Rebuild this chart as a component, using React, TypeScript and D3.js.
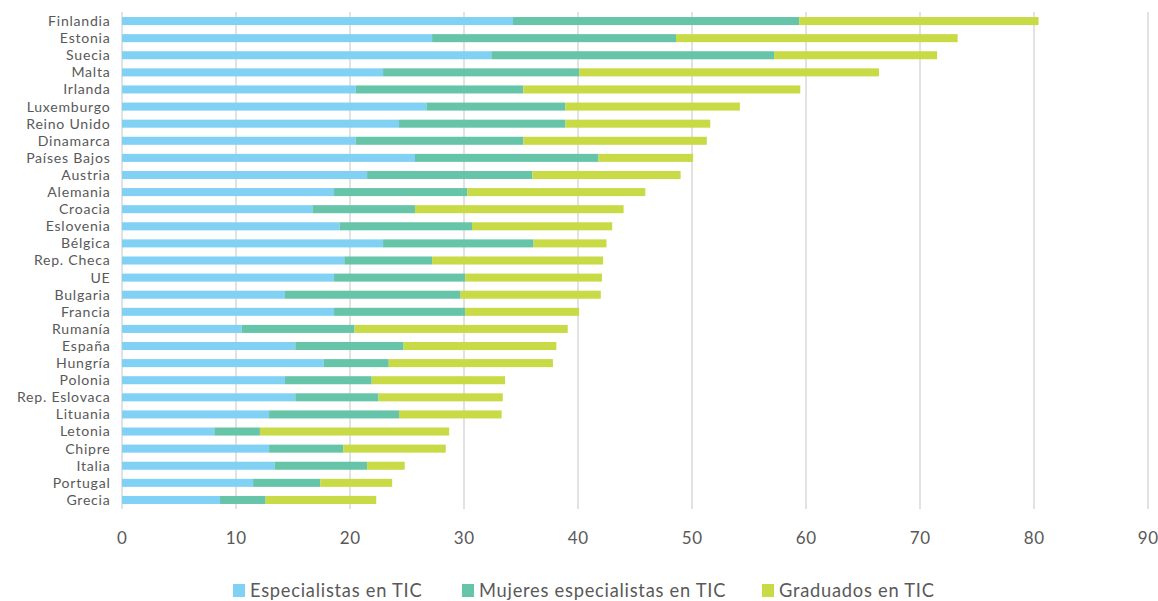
import React from "react";
import * as d3 from "d3";

// Countries, top to bottom
const categories = [
  "Finlandia", "Estonia", "Suecia", "Malta", "Irlanda", "Luxemburgo", "Reino Unido",
  "Dinamarca", "Países Bajos", "Austria", "Alemania", "Croacia", "Eslovenia", "Bélgica",
  "Rep. Checa", "UE", "Bulgaria", "Francia", "Rumanía", "España", "Hungría", "Polonia",
  "Rep. Eslovaca", "Lituania", "Letonia", "Chipre", "Italia", "Portugal", "Grecia",
];

// Segment values of each stacked bar
const especialistas = [
  34.3, 27.2, 32.4, 22.9, 20.5, 26.7, 24.3, 20.5, 25.7, 21.5, 18.6, 16.7, 19.1, 22.9,
  19.5, 18.6, 14.3, 18.6, 10.5, 15.2, 17.7, 14.3, 15.2, 12.9, 8.1, 12.9, 13.4, 11.5, 8.6,
];
const mujeres = [
  25.1, 21.4, 24.8, 17.2, 14.7, 12.2, 14.6, 14.7, 16.1, 14.5, 11.7, 9.0, 11.6, 13.2,
  7.7, 11.5, 15.4, 11.5, 9.9, 9.5, 5.7, 7.6, 7.3, 11.4, 4.0, 6.5, 8.1, 5.9, 4.0,
];
const graduados = [
  21.0, 24.7, 14.3, 26.3, 24.3, 15.3, 12.7, 16.1, 8.3, 13.0, 15.6, 18.3, 12.3, 6.4,
  15.0, 12.0, 12.3, 10.0, 18.7, 13.4, 14.4, 11.7, 10.9, 9.0, 16.6, 9.0, 3.3, 6.3, 9.7,
];

const seriesNames = ["Especialistas en TIC", "Mujeres especialistas en TIC", "Graduados en TIC"];
const seriesColors = ["#81d1f5", "#66c5a9", "#c8da46"];
const xTicks = [0, 10, 20, 30, 40, 50, 60, 70, 80, 90];

const W = 1158;
const H = 601;
const FONT = "Lato, 'Noto Sans', sans-serif";
const TEXT = "#595959";

export default function App() {
  const x = d3.scaleLinear().domain([0, 90]).range([122, 1148]);
  const y = d3.scaleBand<string>().domain(categories).range([12.5, 508.5]).padding(0);
  const barH = y.bandwidth() * 0.47;

  const rows = categories.map((c, i) => ({
    c,
    e: especialistas[i],
    m: mujeres[i],
    g: graduados[i],
  }));
  const stack = d3.stack<any>().keys(["e", "m", "g"])(rows);

  const legendX = [233, 462, 762];

  return (
    <svg width={W} height={H} style={{ position: "absolute", left: 0, top: 0, background: "#fff" }}>
      {/* vertical gridlines */}
      {xTicks.map((t) => (
        <line
          key={t}
          x1={x(t)}
          x2={x(t)}
          y1={12}
          y2={509}
          stroke="#d9d9d9"
          strokeWidth={1.5}
        />
      ))}
      {/* stacked bars */}
      {stack.map((layer, li) =>
        layer.map((d, i) => (
          <rect
            key={li + "-" + i}
            x={x(d[0])}
            width={x(d[1]) - x(d[0])}
            y={(y(categories[i]) as number) + (y.bandwidth() - barH) / 2}
            height={barH}
            fill={seriesColors[li]}
          />
        ))
      )}
      {/* category labels */}
      {categories.map((c) => (
        <text
          key={c}
          x={110.5}
          y={(y(c) as number) + y.bandwidth() / 2}
          dy="0.35em"
          textAnchor="end"
          fontFamily={FONT}
          fontSize={14.1}
          letterSpacing={0.75}
          fill={TEXT}
        >
          {c}
        </text>
      ))}
      {/* x tick labels */}
      {xTicks.map((t) => (
        <text
          key={t}
          x={x(t) + 0.3}
          y={538}
          dy="0.35em"
          textAnchor="middle"
          fontFamily={FONT}
          fontSize={17}
          letterSpacing={0.6}
          fill={TEXT}
        >
          {t}
        </text>
      ))}
      {/* legend */}
      {seriesNames.map((n, i) => (
        <g key={n} transform={`translate(${legendX[i]},${584})`}>
          <rect x={0} y={0} width={12} height={13} fill={seriesColors[i]} />
          <text
            x={17}
            y={6.5}
            dy="0.35em"
            fontFamily={FONT}
            fontSize={18.3}
            letterSpacing={0.75}
            fill={TEXT}
          >
            {n}
          </text>
        </g>
      ))}
    </svg>
  );
}
